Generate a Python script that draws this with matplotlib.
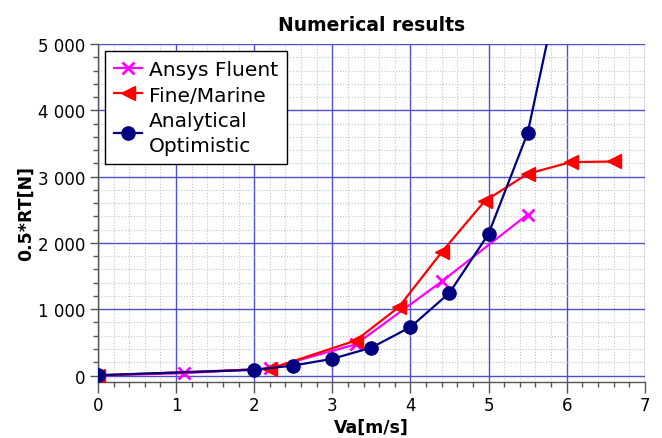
import matplotlib
matplotlib.use("Agg")
import matplotlib.pyplot as plt
from matplotlib.ticker import MultipleLocator, FuncFormatter

# Data
ansys_x = [0.0, 1.1, 2.2, 3.3, 4.4, 5.5]
ansys_y = [0, 35, 110, 470, 1418, 2428]

fine_x = [0.0, 2.2, 3.3, 3.85, 4.4, 4.95, 5.5, 6.05, 6.6]
fine_y = [0, 100, 528, 1031, 1861, 2630, 3042, 3218, 3228]

anal_x = [0.0, 2.0, 2.5, 3.0, 3.5, 4.0, 4.5, 5.0, 5.5, 6.0]
anal_y = [5, 85, 150, 252, 420, 730, 1247, 2137, 3656, 6400]

labels = ["Ansys Fluent", "Fine/Marine", "Analytical\nOptimistic"]

plt.rcParams['font.family'] = ['DejaVu Sans']

fig = plt.figure(figsize=(6.62, 4.39), dpi=100)
ax = fig.add_axes([0.148, 0.128, 0.826, 0.7695])

ax.plot(ansys_x, ansys_y, color='#ff00ff', lw=1.6, marker='x', ms=9, mew=2, label=labels[0], zorder=3)
ax.plot(fine_x, fine_y, color='#ff0000', lw=1.6, marker='<', ms=10, label=labels[1], zorder=4)
ax.plot(anal_x, anal_y, color='#000080', lw=1.6, marker='o', ms=9.5, label=labels[2], zorder=5)

ax.set_xlim(0, 7)
ax.set_ylim(-95, 5000)

ax.xaxis.set_major_locator(MultipleLocator(1))
ax.xaxis.set_minor_locator(MultipleLocator(0.2))
ax.yaxis.set_major_locator(MultipleLocator(1000))
ax.yaxis.set_minor_locator(MultipleLocator(200))
ax.yaxis.set_major_formatter(FuncFormatter(lambda v, p: f"{int(round(v)):,}".replace(",", " ")))

ax.grid(which='major', color='#5050cc', lw=1.0, ls='-')
ax.grid(which='minor', color='#c4c4c4', lw=0.8, ls=':')
ax.set_axisbelow(True)

for s in ['top', 'right']:
    ax.spines[s].set_visible(False)
for s in ['left', 'bottom']:
    ax.spines[s].set_color('#555555')
    ax.spines[s].set_linewidth(1.0)

ax.tick_params(which='major', direction='out', length=6, width=1, color='#555555', labelsize=12, pad=3)
ax.tick_params(which='minor', direction='out', length=3.5, width=1, color='#555555')
ax.tick_params(axis='x', which='major', length=8, pad=2)

ax.set_title("Numerical results", fontsize=13.5, fontweight='bold', pad=10)
ax.set_xlabel("Va[m/s]", fontsize=12.5, fontweight='bold', labelpad=3)
ax.set_ylabel("0.5*RT[N]", fontsize=12.5, fontweight='bold', labelpad=2)

leg = ax.legend(loc='upper left', bbox_to_anchor=(0.0125, 0.978), fontsize=14.5, frameon=True,
                fancybox=False, edgecolor='black', framealpha=1, handlelength=1.4,
                handletextpad=0.35, labelspacing=0.3, borderpad=0.45, borderaxespad=0)
leg.get_frame().set_linewidth(1.0)
leg.get_texts()[2].set_linespacing(1.4)

fig.savefig("out.png", dpi=100)
